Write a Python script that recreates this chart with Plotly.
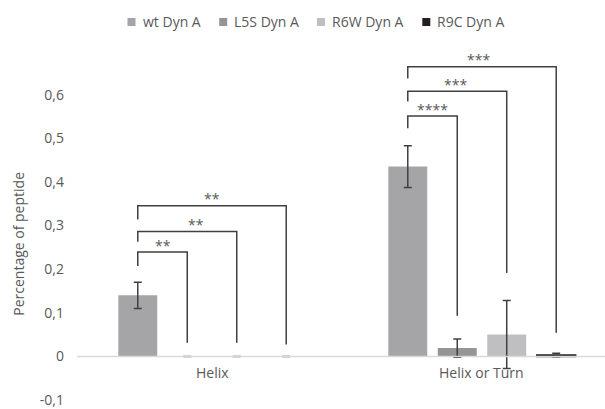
import plotly.graph_objects as go

# ---- data -------------------------------------------------------------
categories = ["Helix", "Helix or Turn"]
series_names = ["wt Dyn A", "L5S Dyn A", "R6W Dyn A", "R9C Dyn A"]

wt_values = [0.14, 0.435]
l5s_values = [0.0, 0.019]
r6w_values = [0.0, 0.05]
r9c_values = [0.0, 0.003]

wt_errors = [0.03, 0.048]
l5s_errors = [0.0, 0.021]
r6w_errors = [0.0, 0.078]
r9c_errors = [0.0, 0.004]

y_tick_values = [-0.1, 0.0, 0.1, 0.2, 0.3, 0.4, 0.5, 0.6]
y_tick_labels = ["-0,1", "0", "0,1", "0,2", "0,3", "0,4", "0,5", "0,6"]

# significance brackets: wt bar vs. bar index in the same category
bracket_category = [0, 0, 0, 1, 1, 1]
bracket_target = [1, 2, 3, 1, 2, 3]
bracket_left_end = [0.207, 0.263, 0.314, 0.523, 0.584, 0.637]
bracket_top = [0.239, 0.286, 0.345, 0.551, 0.608, 0.664]
bracket_right_end = [0.031, 0.031, 0.027, 0.093, 0.191, 0.054]
bracket_labels = ["**", "**", "**", "****", "***", "***"]
bracket_label_nudge = [0, 9, 0, 0, -2, -3]

# ---- styling ----------------------------------------------------------
colors = ["#A5A5A7", "#959597", "#BFBFC1", "#231F20"]
text_color = "#595959"
line_color = "#404040"
axis_color = "#D9D9D9"
font_family = "Open Sans"
FONT_SIZE = 14
BARGAP = 0.267
BARGROUPGAP = 0.213
n_series = len(series_names)

# plot-area geometry (pixels)
WIDTH, HEIGHT = 605, 409
M_LEFT, M_RIGHT, M_TOP, M_BOTTOM = 77, 0, 51, 9
plot_w = WIDTH - M_LEFT - M_RIGHT
plot_h = HEIGHT - M_TOP - M_BOTTOM

# hand-placed legend row (marker centres, pixels from the left / top)
legend_marker_px = [131.5, 223.2, 321.0, 426.3]
legend_row_px = 22
legend_marker_size = 8
legend_text_gap = 8

all_values = [wt_values, l5s_values, r6w_values, r9c_values]
all_errors = [wt_errors, l5s_errors, r6w_errors, r9c_errors]
x_pos = list(range(len(categories)))

fig = go.Figure()
for i, name in enumerate(series_names):
    # outline only the dark series so its very small bar stays visible
    outline = [1.5 if (i == 3 and v > 0) else 0 for v in all_values[i]]
    fig.add_trace(go.Bar(
        x=x_pos,
        y=all_values[i],
        name=name,
        marker=dict(color=colors[i], line=dict(color=colors[i], width=outline)),
        error_y=dict(type="data", array=all_errors[i], visible=True,
                     color=line_color, thickness=1.5, width=4),
    ))

# centre of each bar inside a category group
slot = (1 - BARGAP) / n_series


def bar_center(cat, idx):
    return cat - (1 - BARGAP) / 2 + slot * (idx + 0.5)


shapes = []
annotations = []

# horizontal axis line at zero, drawn over the bars
shapes.append(dict(type="line", xref="paper", yref="y", x0=0, x1=1, y0=0, y1=0,
                   line=dict(color=axis_color, width=1.5), layer="above"))

for k in range(len(bracket_labels)):
    c = bracket_category[k]
    xl = bar_center(c, 0)
    xr = bar_center(c, bracket_target[k])
    top = bracket_top[k]
    shapes.append(dict(
        type="path", xref="x", yref="y",
        path=f"M{xl},{bracket_left_end[k]} L{xl},{top} L{xr},{top} L{xr},{bracket_right_end[k]}",
        line=dict(color=line_color, width=1.5),
    ))
    annotations.append(dict(
        x=(xl + xr) / 2, y=top, xref="x", yref="y",
        text=bracket_labels[k], showarrow=False,
        xanchor="center", yanchor="middle",
        xshift=bracket_label_nudge[k], yshift=7,
        font=dict(family=font_family, size=FONT_SIZE, color=text_color),
    ))

# category labels sit just under the zero line
for c, label in zip(x_pos, categories):
    annotations.append(dict(
        x=c, y=0, xref="x", yref="y", text=label, showarrow=False,
        xanchor="center", yanchor="top", yshift=-5,
        font=dict(family=font_family, size=FONT_SIZE, color=text_color),
    ))

# y-axis title
annotations.append(dict(
    x=-0.11, y=0.258, xref="paper", yref="y",
    text="Percentage of peptide", showarrow=False, textangle=-90,
    xanchor="center", yanchor="middle",
    font=dict(family=font_family, size=FONT_SIZE, color=text_color),
))

# legend row: small squares with the series names
def px_to_paper_x(px):
    return (px - M_LEFT) / plot_w


def px_to_paper_y(py):
    return (HEIGHT - M_BOTTOM - py) / plot_h


half = legend_marker_size / 2
for i, name in enumerate(series_names):
    cx = legend_marker_px[i]
    shapes.append(dict(
        type="rect", xref="paper", yref="paper",
        x0=px_to_paper_x(cx - half), x1=px_to_paper_x(cx + half),
        y0=px_to_paper_y(legend_row_px + half), y1=px_to_paper_y(legend_row_px - half),
        fillcolor=colors[i], line=dict(width=0),
    ))
    annotations.append(dict(
        x=px_to_paper_x(cx + half + legend_text_gap - 3), y=px_to_paper_y(legend_row_px),
        xref="paper", yref="paper", text=name, showarrow=False,
        xanchor="left", yanchor="middle",
        font=dict(family=font_family, size=FONT_SIZE, color=text_color),
    ))

fig.update_layout(
    width=WIDTH, height=HEIGHT,
    margin=dict(l=M_LEFT, r=M_RIGHT, t=M_TOP, b=M_BOTTOM),
    paper_bgcolor="white", plot_bgcolor="white",
    barmode="group", bargap=BARGAP, bargroupgap=BARGROUPGAP,
    font=dict(family=font_family, size=FONT_SIZE, color=text_color),
    showlegend=False,
    shapes=shapes,
    annotations=annotations,
    xaxis=dict(range=[-0.5, 1.4556], showticklabels=False, showgrid=False,
               zeroline=False, showline=False, ticks=""),
    yaxis=dict(range=[-0.1, 0.7], tickvals=y_tick_values, ticktext=y_tick_labels,
               showgrid=False, showline=False, ticks="", zeroline=False,
               ticklabelstandoff=12,
               tickfont=dict(family=font_family, size=FONT_SIZE, color=text_color)),
)

fig.write_html("out.html")
